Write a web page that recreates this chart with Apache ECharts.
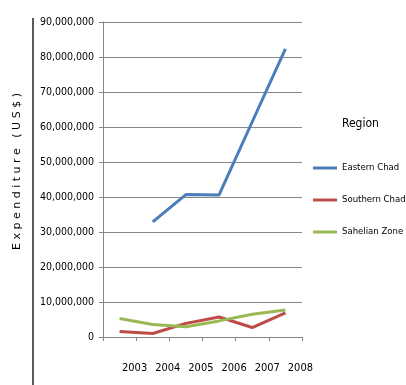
<!DOCTYPE html>
<html>
<head>
<meta charset="utf-8">
<script src="https://cdn.jsdelivr.net/npm/echarts@6/dist/echarts.min.js"></script>
<style>
  html, body { margin: 0; padding: 0; background: #fff; }
  #chart { width: 406px; height: 385px; }
</style>
</head>
<body>
<div id="chart"></div>
<script>
// Expenditure per region, by year
const years = ['2003', '2004', '2005', '2006', '2007', '2008'];
const easternChad = [null, 32900000, 40700000, 40600000, 61500000, 82300000];
const southernChad = [1600000, 1000000, 3900000, 5700000, 2700000, 6900000];
const sahelianZone = [5300000, 3600000, 2900000, 4600000, 6500000, 7700000];
const seriesNames = ['Eastern Chad', 'Southern Chad', 'Sahelian Zone'];
const seriesColors = ['#4a7ebb', '#be4b48', '#98b954'];

const labelFont = '"DejaVu Sans Condensed", "Liberation Sans", sans-serif';

const chart = echarts.init(document.getElementById('chart'));

function lineSeries(name, data, color) {
  return {
    name: name,
    type: 'line',
    data: data,
    symbol: 'none',
    connectNulls: false,
    lineStyle: { color: color, width: 3 },
    itemStyle: { color: color }
  };
}

chart.setOption({
  animation: false,
  backgroundColor: '#ffffff',
  grid: { left: 103, right: 104, top: 22, bottom: 48 },
  xAxis: {
    type: 'category',
    data: years,
    boundaryGap: true,
    axisLine: { lineStyle: { color: '#868686', width: 1 } },
    axisTick: { show: true, length: 4, lineStyle: { color: '#868686' } },
    axisLabel: {
      interval: 0,
      color: '#000',
      fontFamily: labelFont,
      fontSize: 11,
      margin: 26,
      padding: [0, 0, 0, 30]
    },
    splitLine: { show: false }
  },
  yAxis: {
    type: 'value',
    min: 0,
    max: 90000000,
    interval: 10000000,
    name: 'E x p e n d i t u r e   ( U S $ )',
    nameLocation: 'middle',
    nameGap: 80,
    nameRotate: 90,
    nameTextStyle: { color: '#000', fontFamily: '"DejaVu Sans", sans-serif', fontSize: 11, padding: [0, 0, 0, 16] },
    axisLine: { show: true, lineStyle: { color: '#868686', width: 1 } },
    axisTick: { show: true, length: 4, lineStyle: { color: '#868686' } },
    axisLabel: {
      color: '#000',
      fontFamily: labelFont,
      fontSize: 10.5,
      margin: 9,
      formatter: v => v.toLocaleString('en-US')
    },
    splitLine: { lineStyle: { color: '#868686', width: 1 } }
  },
  legend: {
    orient: 'vertical',
    left: 308,
    top: 158,
    itemWidth: 24,
    itemHeight: 3,
    itemGap: 22,
    icon: 'rect',
    data: seriesNames,
    textStyle: { color: '#000', fontFamily: labelFont, fontSize: 9.5, overflow: 'none', width: 80 }
  },
  graphic: [
    {
      type: 'text',
      left: 342,
      top: 118,
      style: { text: 'Region', fill: '#000', font: '12px ' + labelFont }
    },
    {
      type: 'line',
      shape: { x1: 33, y1: 18, x2: 33, y2: 385 },
      style: { stroke: '#5a5a5a', lineWidth: 2 }
    }
  ],
  series: [
    lineSeries(seriesNames[0], easternChad, seriesColors[0]),
    lineSeries(seriesNames[1], southernChad, seriesColors[1]),
    lineSeries(seriesNames[2], sahelianZone, seriesColors[2])
  ]
});
</script>
</body>
</html>
